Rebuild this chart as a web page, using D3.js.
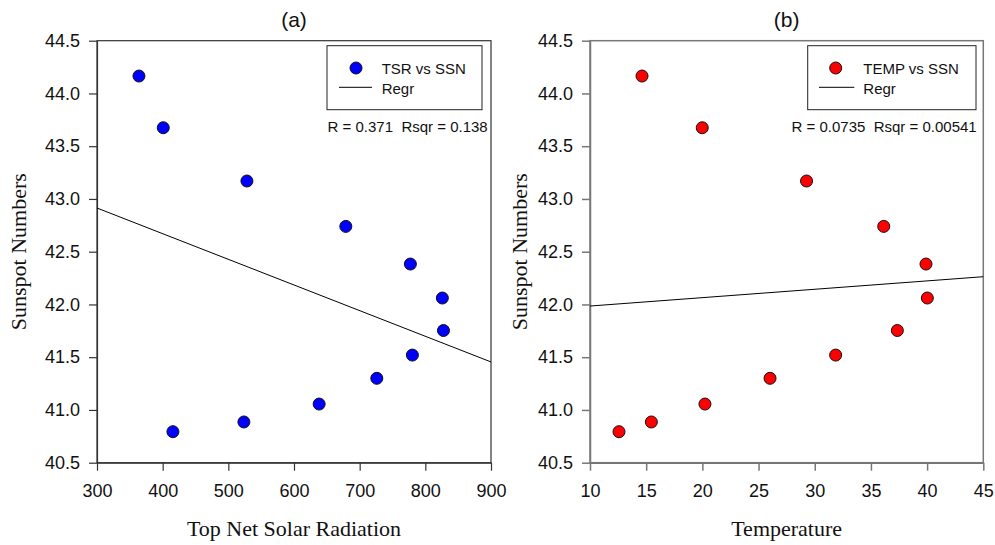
<!DOCTYPE html>
<html><head><meta charset="utf-8">
<script src="https://cdn.jsdelivr.net/npm/d3@7"></script>
<style>body{margin:0;background:#fff}svg{display:block}</style>
</head><body>
<svg id="c" width="995" height="545"></svg>
<script>
// Shared y values (Sunspot Numbers)
const ssn = [44.165, 43.675, 43.17, 42.74, 42.383, 42.061, 41.753, 41.52, 41.30, 41.056, 40.886, 40.794];
// Panel (a): Top Net Solar Radiation
const tsr = [363.9, 400.9, 528.3, 678.9, 777.2, 825.9, 827.6, 780.3, 726.1, 638.3, 523.7, 415.6];
// Panel (b): Temperature
const temp = [14.63, 19.99, 29.27, 36.14, 39.9, 40.02, 37.35, 31.86, 26.02, 20.23, 15.46, 12.58];
// Regression lines (endpoints in data units)
const regrA = [[300, 42.914], [900, 41.455]];
const regrB = [[10, 41.985], [45, 42.263]];
const xTicksA = [300, 400, 500, 600, 700, 800, 900];
const xTicksB = [10, 15, 20, 25, 30, 35, 40, 45];
const yTicks = [40.5, 41.0, 41.5, 42.0, 42.5, 43.0, 43.5, 44.0, 44.5];

const svg = d3.select("#c");

function panel(cfg) {
  const x = d3.scaleLinear().domain(cfg.xDomain).range([cfg.left, cfg.right]);
  const y = d3.scaleLinear().domain([40.5, 44.5]).range([462.7, 40.7]);
  const g = svg.append("g");

  // frame
  g.append("rect").attr("x", cfg.left).attr("y", 40.7)
    .attr("width", cfg.right - cfg.left).attr("height", 422)
    .attr("fill", "none").attr("stroke", cfg.axisColor).attr("stroke-width", cfg.axisW);

  const yAx = g.append("g").attr("transform", `translate(${cfg.left},0)`)
    .call(d3.axisLeft(y).tickValues(yTicks).tickFormat(d3.format(".1f")).tickSize(8).tickSizeOuter(0).tickPadding(9));
  const xAx = g.append("g").attr("transform", "translate(0,462.7)")
    .call(d3.axisBottom(x).tickValues(cfg.xTicks).tickFormat(d3.format("d")).tickSize(8).tickSizeOuter(0).tickPadding(14));
  [yAx, xAx].forEach(a => {
    a.select(".domain").attr("stroke", cfg.axisColor).attr("stroke-width", cfg.axisW);
    a.selectAll(".tick line").attr("stroke", cfg.axisColor).attr("stroke-width", cfg.axisW);
    a.selectAll(".tick text").attr("fill", "#111").style("font-family", "'Liberation Sans', Arial, sans-serif").style("font-size", "18px");
  });

  // regression line
  g.append("line")
    .attr("x1", x(cfg.regr[0][0])).attr("y1", y(cfg.regr[0][1]))
    .attr("x2", x(cfg.regr[1][0])).attr("y2", y(cfg.regr[1][1]))
    .attr("stroke", "#000").attr("stroke-width", 1);

  // points
  g.selectAll("circle.pt").data(cfg.xs).join("circle").attr("class", "pt")
    .attr("cx", d => x(d)).attr("cy", (d, i) => y(ssn[i])).attr("r", 6)
    .attr("fill", cfg.color).attr("stroke", "#111").attr("stroke-width", 1);

  // title
  g.append("text").attr("x", (cfg.left + cfg.right) / 2).attr("y", 27)
    .attr("text-anchor", "middle").style("font-family", "'Liberation Sans', Arial, sans-serif")
    .style("font-size", "21px").attr("fill", "#111").text(cfg.title);

  // axis labels
  g.append("text").attr("x", (cfg.left + cfg.right) / 2).attr("y", 536)
    .attr("text-anchor", "middle").style("font-family", "'Liberation Serif', 'Times New Roman', serif")
    .style("font-size", "22px").attr("fill", "#111").text(cfg.xLabel);
  g.append("text").attr("transform", `translate(${cfg.yLabelX},251.7) rotate(-90)`)
    .attr("text-anchor", "middle").style("font-family", "'Liberation Serif', 'Times New Roman', serif")
    .style("font-size", "22px").attr("fill", "#111").text("Sunspot Numbers");

  // legend
  const L = cfg.legend;
  g.append("rect").attr("x", L.x0).attr("y", 45.7).attr("width", L.x1 - L.x0).attr("height", 64)
    .attr("fill", "#fff").attr("stroke", "#222").attr("stroke-width", 1);
  g.append("circle").attr("cx", L.mx).attr("cy", 68).attr("r", 6)
    .attr("fill", cfg.color).attr("stroke", "#111").attr("stroke-width", 1);
  g.append("line").attr("x1", L.l0).attr("x2", L.l1).attr("y1", 87.3).attr("y2", 87.3)
    .attr("stroke", "#000").attr("stroke-width", 1);
  const lf = "'Liberation Sans', Arial, sans-serif";
  g.append("text").attr("x", L.tx).attr("y", 74).style("font-family", lf).style("font-size", "15px")
    .attr("fill", "#111").text(cfg.seriesName);
  g.append("text").attr("x", L.tx).attr("y", 94).style("font-family", lf).style("font-size", "15px")
    .attr("fill", "#111").text("Regr");
  g.append("text").attr("x", L.rx).attr("y", 132).attr("text-anchor", "end")
    .style("font-family", lf).style("font-size", "15px").attr("fill", "#111")
    .style("white-space", "pre").attr("xml:space", "preserve").text(cfg.stat);
}

panel({
  left: 97, right: 491, xDomain: [300, 900], xTicks: xTicksA, xs: tsr, regr: regrA,
  color: "#0000ff", axisColor: "#333", axisW: 1.2, title: "(a)",
  xLabel: "Top Net Solar Radiation", yLabelX: 26, seriesName: "TSR vs SSN",
  stat: "R = 0.371  Rsqr = 0.138",
  legend: { x0: 327, x1: 482, mx: 356, l0: 339, l1: 372, tx: 381.7, rx: 487.7 }
});
panel({
  left: 590, right: 983.3, xDomain: [10, 45], xTicks: xTicksB, xs: temp, regr: regrB,
  color: "#ff0000", axisColor: "#777", axisW: 1.5, title: "(b)",
  xLabel: "Temperature", yLabelX: 527, seriesName: "TEMP vs SSN",
  stat: "R = 0.0735  Rsqr = 0.00541",
  legend: { x0: 807.7, x1: 976, mx: 835.7, l0: 819, l1: 854.3, tx: 863.3, rx: 976.7 }
});
</script>
</body></html>
